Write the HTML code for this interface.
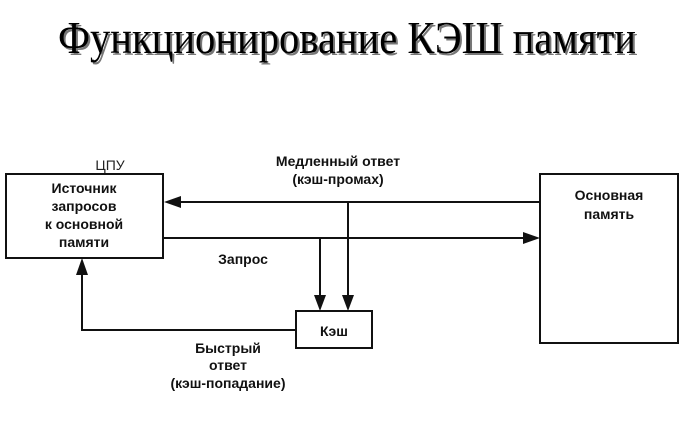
<!DOCTYPE html>
<html><head><meta charset="utf-8"><style>
html,body{margin:0;padding:0;background:#fff;}
svg{display:block;}
.t{font-family:"Liberation Sans","DejaVu Sans",sans-serif;font-weight:bold;font-size:14px;fill:#111;}
</style></head><body>
<svg width="690" height="432" viewBox="0 0 690 432" xmlns="http://www.w3.org/2000/svg">
<text x="349" y="55" font-family="Liberation Serif,serif" font-size="46" fill="#777" text-anchor="middle" textLength="578" lengthAdjust="spacingAndGlyphs">Функционирование КЭШ памяти</text>
<text x="347" y="53" font-family="Liberation Serif,serif" font-size="46" fill="#000" text-anchor="middle" textLength="578" lengthAdjust="spacingAndGlyphs">Функционирование КЭШ памяти</text>

<g stroke="#111" stroke-width="2" fill="none">
<rect x="6" y="174" width="157" height="84"/>
<rect x="540" y="174" width="138" height="169"/>
<rect x="296" y="311" width="76" height="37"/>
<line x1="178" y1="202" x2="540" y2="202"/>
<line x1="163" y1="238" x2="526" y2="238"/>
<line x1="320" y1="238" x2="320" y2="298"/>
<line x1="348" y1="202" x2="348" y2="298"/>
<polyline points="296,330 82,330 82,273"/>
</g>
<g fill="#111">
<polygon points="164,202 181,196 181,208"/>
<polygon points="540,238 523,232 523,244"/>
<polygon points="320,311 314,295 326,295"/>
<polygon points="348,311 342,295 354,295"/>
<polygon points="82,258 76,275 88,275"/>
</g>
<text x="110" y="170" font-family="Liberation Sans,sans-serif" font-size="14" fill="#222" text-anchor="middle">ЦПУ</text>
<g class="t" text-anchor="middle">
<text x="84" y="193">Источник</text>
<text x="84" y="211">запросов</text>
<text x="84" y="229">к основной</text>
<text x="84" y="247">памяти</text>
<text x="338" y="166">Медленный ответ</text>
<text x="338" y="184">(кэш-промах)</text>
<text x="243" y="264">Запрос</text>
<text x="334" y="336">Кэш</text>
<text x="228" y="353">Быстрый</text>
<text x="228" y="370">ответ</text>
<text x="228" y="388">(кэш-попадание)</text>
<text x="609" y="200">Основная</text>
<text x="609" y="219">память</text>
</g>
</svg>
</body></html>
